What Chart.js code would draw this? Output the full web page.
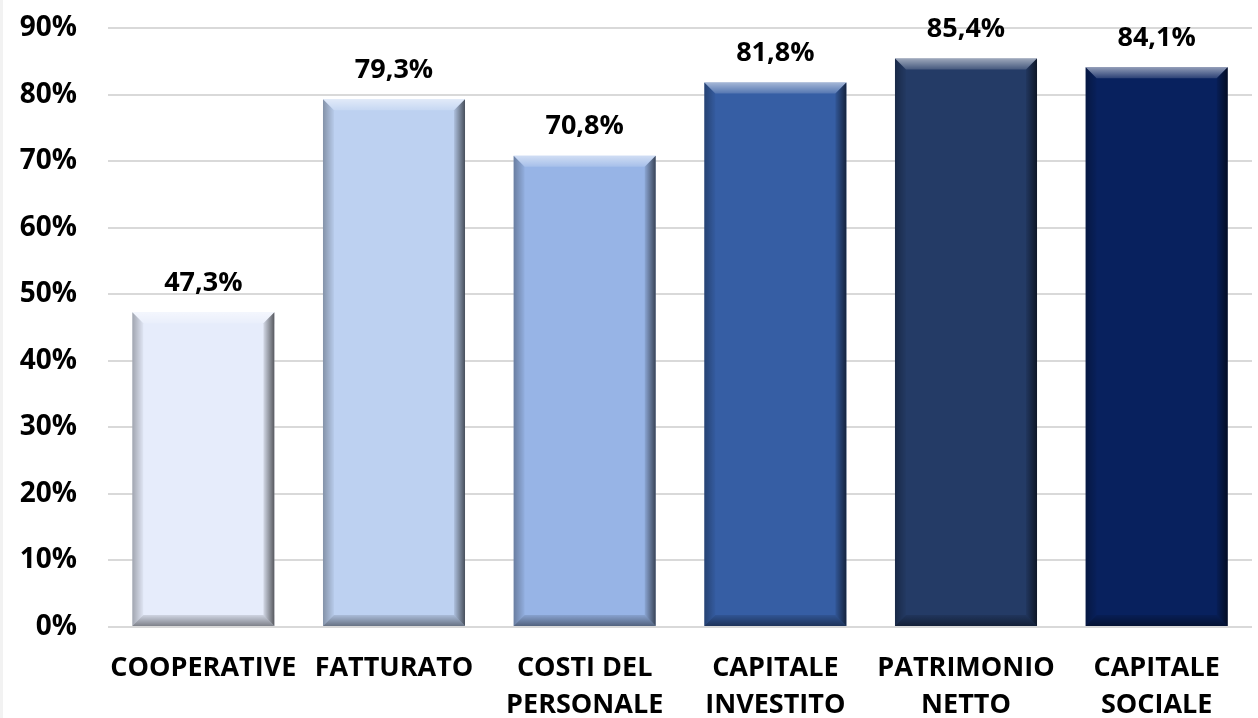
<!DOCTYPE html>
<html>
<head>
<meta charset="utf-8">
<script src="https://cdn.jsdelivr.net/npm/chart.js@4.4.1/dist/chart.umd.min.js"></script>
<style>
  html, body { margin: 0; padding: 0; background: #ffffff; }
  #wrap { position: relative; width: 1258px; height: 718px; }
  #strip { position: absolute; left: 0; top: 0; width: 3px; height: 718px; background: #f2f2f2; }
</style>
</head>
<body>
<div id="wrap">
  <canvas id="c" width="1258" height="718"></canvas>
  <div id="strip"></div>
</div>
<script>
const categories = [
  ["COOPERATIVE"],
  ["FATTURATO"],
  ["COSTI DEL", "PERSONALE"],
  ["CAPITALE", "INVESTITO"],
  ["PATRIMONIO", "NETTO"],
  ["CAPITALE", "SOCIALE"]
];
const values = [47.3, 79.3, 70.8, 81.8, 85.4, 84.1];
const barColors = ["#E6ECFB", "#BDD1F1", "#97B4E6", "#365EA4", "#243B66", "#08215E"];
const yTickMax = 90;
const yTickStep = 10;

const FONT = "'Open Sans', 'DejaVu Sans', sans-serif";

function fmt(v) {
  return v.toFixed(1).replace('.', ',') + '%';
}

const bevelPlugin = {
  id: 'bevel',
  afterDatasetsDraw(chart) {
    const ctx = chart.ctx;
    const meta = chart.getDatasetMeta(0);
    meta.data.forEach((bar) => {
      const p = bar.getProps(['x', 'y', 'base', 'width'], true);
      const l = p.x - p.width / 2, r = p.x + p.width / 2;
      const t = Math.min(p.y, p.base), b = Math.max(p.y, p.base);
      const bv = 11;
      ctx.save();
      let g = ctx.createLinearGradient(0, t, 0, t + bv);
      g.addColorStop(0, 'rgba(255,255,255,0.55)');
      g.addColorStop(1, 'rgba(255,255,255,0.15)');
      ctx.fillStyle = g;
      ctx.beginPath();
      ctx.moveTo(l, t); ctx.lineTo(r, t); ctx.lineTo(r - bv, t + bv); ctx.lineTo(l + bv, t + bv); ctx.closePath();
      ctx.fill();
      g = ctx.createLinearGradient(l, 0, l + bv, 0);
      g.addColorStop(0, 'rgba(0,0,0,0.30)');
      g.addColorStop(1, 'rgba(0,0,0,0.03)');
      ctx.fillStyle = g;
      ctx.beginPath();
      ctx.moveTo(l, t); ctx.lineTo(l + bv, t + bv); ctx.lineTo(l + bv, b - bv); ctx.lineTo(l, b); ctx.closePath();
      ctx.fill();
      g = ctx.createLinearGradient(r - bv, 0, r, 0);
      g.addColorStop(0, 'rgba(0,0,0,0.08)');
      g.addColorStop(1, 'rgba(0,0,0,0.62)');
      ctx.fillStyle = g;
      ctx.beginPath();
      ctx.moveTo(r, t); ctx.lineTo(r, b); ctx.lineTo(r - bv, b - bv); ctx.lineTo(r - bv, t + bv); ctx.closePath();
      ctx.fill();
      g = ctx.createLinearGradient(0, b - bv, 0, b);
      g.addColorStop(0, 'rgba(0,0,0,0.10)');
      g.addColorStop(1, 'rgba(0,0,0,0.45)');
      ctx.fillStyle = g;
      ctx.beginPath();
      ctx.moveTo(l, b); ctx.lineTo(l + bv, b - bv); ctx.lineTo(r - bv, b - bv); ctx.lineTo(r, b); ctx.closePath();
      ctx.fill();
      ctx.restore();
    });
  }
};

const labelPlugin = {
  id: 'valueLabels',
  afterDatasetsDraw(chart) {
    const ctx = chart.ctx;
    const meta = chart.getDatasetMeta(0);
    const ds = chart.data.datasets[0];
    ctx.save();
    ctx.font = "bold 27px " + FONT;
    ctx.fillStyle = '#000000';
    ctx.textAlign = 'center';
    ctx.textBaseline = 'middle';
    meta.data.forEach((bar, i) => {
      ctx.fillText(fmt(ds.data[i]), bar.x, bar.y - 29);
    });
    ctx.restore();
  }
};

new Chart(document.getElementById('c'), {
  type: 'bar',
  data: {
    labels: categories,
    datasets: [{
      data: values,
      backgroundColor: barColors,
      borderWidth: 0,
      categoryPercentage: 1.0,
      barPercentage: 0.745
    }]
  },
  options: {
    responsive: false,
    animation: false,
    devicePixelRatio: 1,
    layout: { padding: { top: 28, right: 6, left: 0, bottom: 0 } },
    plugins: {
      legend: { display: false },
      tooltip: { enabled: false }
    },
    scales: {
      x: {
        grid: { display: false },
        border: { display: false },
        ticks: {
          color: '#000000',
          font: { family: FONT, size: 27, weight: 'bold', lineHeight: 1.4 },
          padding: 14,
          maxRotation: 0,
          autoSkip: false
        },
        afterFit(scale) { scale.height = 91; }
      },
      y: {
        min: 0,
        max: yTickMax,
        grid: { color: '#D9D9D9', lineWidth: 2, drawTicks: false },
        border: { display: false },
        ticks: {
          stepSize: yTickStep,
          color: '#000000',
          font: { family: FONT, size: 28, weight: 'bold' },
          padding: 31,
          callback: (v) => v + '%'
        },
        afterFit(scale) {
          scale.width = 108;
          scale.paddingTop = 0;
          scale.paddingBottom = 0;
        }
      }
    }
  },
  plugins: [bevelPlugin, labelPlugin]
});
</script>
</body>
</html>
